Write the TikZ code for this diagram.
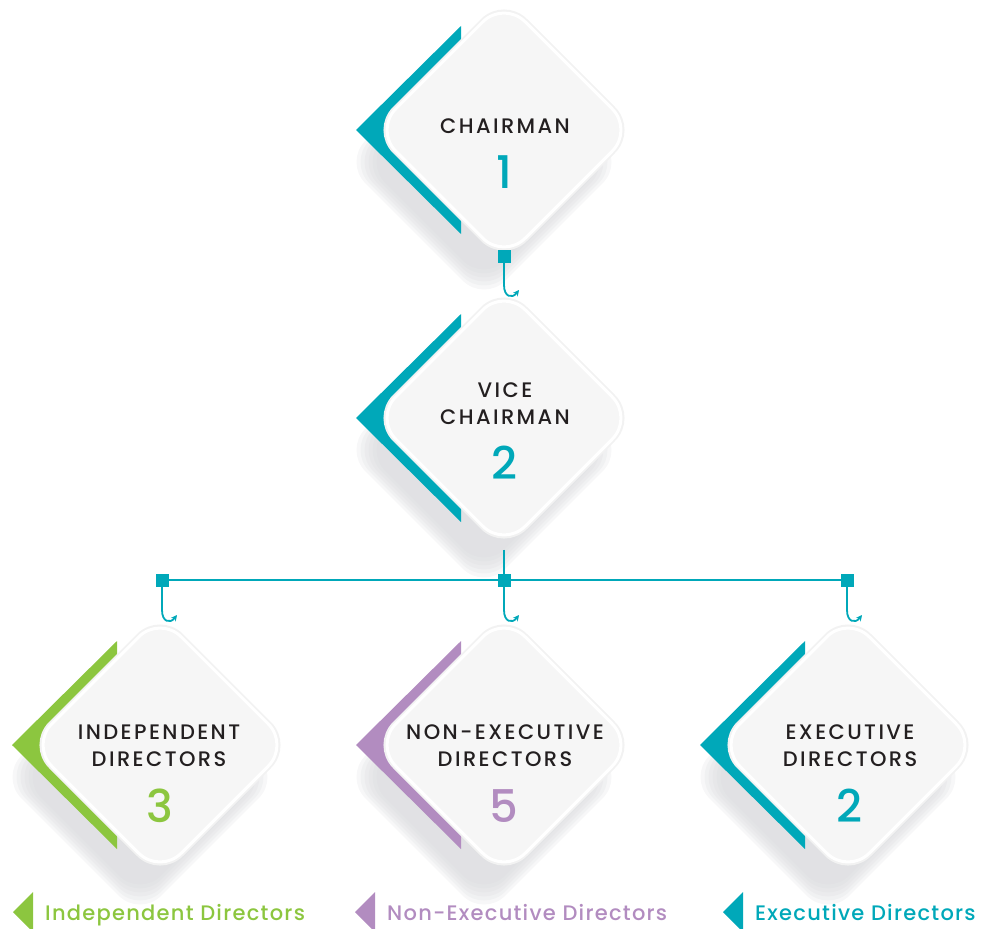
\documentclass[tikz,border=0pt]{standalone}
\usepackage{fontspec}
\setmainfont{Poppins}
\newfontfamily\pmed{Poppins Medium}
\usetikzlibrary{shapes.geometric,arrows.meta}
\definecolor{cTeal}{HTML}{00A8B9}
\definecolor{cGreen}{HTML}{8CC63F}
\definecolor{cPurple}{HTML}{B28CC0}
\definecolor{cText}{HTML}{231F20}
\definecolor{cFill}{HTML}{F6F6F6}
\definecolor{cShadow}{HTML}{D6D7DA}
\tikzset{
  dshape/.style={diamond, aspect=1, inner sep=0pt, rounded corners=30pt},
  diam/.style={dshape, minimum size=260pt, fill=cFill, draw=white, line width=3pt},
  halo/.style={dshape, minimum size=263pt, draw=black!5, line width=5pt},
  shad/.style={dshape, minimum size=#1, fill=cShadow, fill opacity=0.2},
  sq/.style={rectangle, fill=cTeal, minimum size=13pt, inner sep=0pt},
  link/.style={draw=cTeal, line width=1.8pt},
  hook/.style={draw=cTeal, line width=1.8pt, -{Stealth[length=6pt,width=6pt]}},
  ttl/.style={font=\pmed\fontsize{21}{21}\selectfont\addfontfeature{LetterSpace=11.5}, text=cText, anchor=base, inner sep=0pt},
  numb/.style={font=\pmed\fontsize{45}{45}\selectfont, anchor=base, inner sep=0pt},
  leg/.style={font=\pmed\fontsize{21}{21}\selectfont\addfontfeature{LetterSpace=6}, anchor=base west, inner sep=0pt}
}
\newcommand\boardnode[4]{%
  \foreach \sz/\k in {280/a,272/b,264/c,256/d,248/e,240/f}{
    \node[shad=\sz pt] (#1\k) at (#2-20,#3+32) {};
  }
  \fill[#4] (#2-43,#3-104) -- (#2-148,#3) -- (#2-43,#3+104) -- cycle;
  \node[halo] (#1h) at (#2,#3) {};
  \node[diam] (#1d) at (#2,#3) {};
}
\begin{document}
\begin{tikzpicture}[x=1pt,y=-1pt]
\useasboundingbox (0,0) rectangle (981,928);
% diamonds
\boardnode{ch}{504}{130}{cTeal}
\boardnode{vc}{504}{418}{cTeal}
\boardnode{id}{160}{745}{cGreen}
\boardnode{ne}{504}{745}{cPurple}
\boardnode{ed}{848}{745}{cTeal}
% texts
\node[ttl] (ch1) at (505,134) {CHAIRMAN};
\node[numb,text=cTeal] (chn) at (504,188) {1};
\node[ttl] (vc1) at (505,397) {VICE};
\node[ttl] (vc2) at (505,424) {CHAIRMAN};
\node[numb,text=cTeal] (vcn) at (504,479) {2};
\node[ttl] (id1) at (159,739) {INDEPENDENT};
\node[ttl] (id2) at (159,766) {DIRECTORS};
\node[numb,text=cGreen] (idn) at (160,822) {3};
\node[ttl] (ne1) at (505,739) {NON-EXECUTIVE};
\node[ttl] (ne2) at (505,766) {DIRECTORS};
\node[numb,text=cPurple] (nen) at (504,822) {5};
\node[ttl] (ed1) at (850,739) {EXECUTIVE};
\node[ttl] (ed2) at (850,766) {DIRECTORS};
\node[numb,text=cTeal] (edn) at (849,822) {2};
% connectors
\node[sq] (s0) at (504,256) {};
\coordinate (h0) at (519,290);
\draw[hook] (s0.south) -- (504,285) .. controls (504,297) and (512,299) .. (h0);
\draw[link] (vcd.south) -- (504,580);
\node[sq] (s1) at (162,580) {};
\node[sq] (s2) at (504,580) {};
\node[sq] (s3) at (847,580) {};
\draw[link] (s1.center) -- (s3.center);
\coordinate (h1) at (177,615);
\coordinate (h2) at (519,615);
\coordinate (h3) at (862,615);
\draw[hook] (s1.south) -- (162,610) .. controls (162,622) and (170,624) .. (h1);
\draw[hook] (s2.south) -- (504,610) .. controls (504,622) and (512,624) .. (h2);
\draw[hook] (s3.south) -- (847,610) .. controls (847,622) and (855,624) .. (h3);
% legend
\fill[cGreen] (33,892) -- (13,912) -- (33,932) -- cycle;
\node[leg,text=cGreen] (l1) at (45,920) {Independent Directors};
\fill[cPurple] (375,892) -- (355,912) -- (375,932) -- cycle;
\node[leg,text=cPurple] (l2) at (387,920) {Non-Executive Directors};
\fill[cTeal] (743,892) -- (723,912) -- (743,932) -- cycle;
\node[leg,text=cTeal] (l3) at (755,920) {Executive Directors};
\end{tikzpicture}
\end{document}
